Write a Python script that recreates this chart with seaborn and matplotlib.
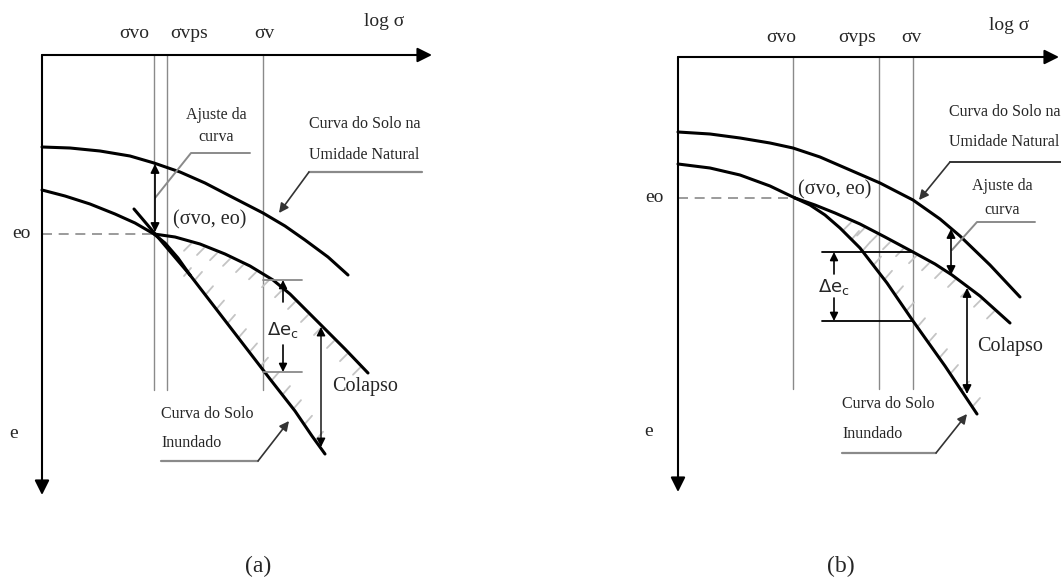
import numpy as np
import seaborn as sns
import matplotlib.pyplot as plt

# Schematic, in image pixels (x to the right, y down)

# --- panel (a) ---
a_natural_x = [42, 70, 100, 130, 154, 180, 205, 230, 263, 285, 305, 328, 348]
a_natural_y = [147, 148, 151, 156, 163, 172, 183, 196, 213, 226, 240, 257, 275]
a_lower_x = [42, 65, 90, 115, 135, 154, 165, 178, 190]
a_lower_y = [190, 196, 204, 214, 223, 234, 243, 258, 275]
a_tangent_x = [134, 190]
a_tangent_y = [209, 275]
a_steep_x = [190, 210, 230, 250, 270, 295, 312, 325]
a_steep_y = [275, 301, 327, 353, 379, 411, 436, 454]
a_middle_x = [154, 175, 200, 225, 250, 273, 290, 305, 321, 345, 368]
a_middle_y = [234, 237, 244, 254, 266, 280, 294, 309, 325, 349, 373]
a_stress_x = [154, 167, 263]
a_stress_labels = ["σvo", "σvps", "σv"]
a_e0 = 234

# --- panel (b) ---
b_natural_x = [678, 710, 740, 770, 793, 820, 850, 880, 913, 940, 960, 990, 1020]
b_natural_y = [132, 134, 138, 143, 148, 157, 170, 183, 200, 219, 236, 265, 297]
b_lower_x = [678, 710, 740, 770, 795]
b_lower_y = [164, 168, 175, 186, 198]
b_middle_x = [795, 815, 835, 860, 885, 913, 935, 952, 980, 1010]
b_middle_y = [198, 205, 213, 224, 237, 252, 264, 275, 296, 323]
b_steep_x = [795, 810, 825, 840, 860, 887, 913, 945, 977]
b_steep_y = [198, 205, 215, 228, 248, 283, 321, 366, 414]
b_stress_x = [793, 879, 913]
b_stress_labels = ["σvo", "σvps", "σv"]
b_e0 = 198

sns.set_style("white")
plt.rcParams['font.family'] = ['Liberation Serif', 'DejaVu Serif']
plt.rcParams['mathtext.fontset'] = 'dejavusans'

fig = plt.figure(figsize=(10.61, 5.83), dpi=100)
ax = fig.add_axes([0, 0, 1, 1])
ax.set_xlim(0, 1061)
ax.set_ylim(583, 0)
ax.axis('off')

GREY = '#8a8a8a'
HATCH = '#c4c4c4'
DELTA = r'$\Delta\mathrm{e}_\mathrm{c}$'


def curve(x, y, lw=2.2):
    sns.lineplot(x=x, y=y, sort=False, estimator=None, color='black', lw=lw, ax=ax)


def arrow(tail, tip, scale=13, lw=1.2, color='black', style='-|>'):
    ax.annotate('', xy=tip, xytext=tail,
                arrowprops=dict(arrowstyle=style, color=color, lw=lw,
                                mutation_scale=scale, shrinkA=0, shrinkB=0))


def hatch(x, y, x0, x1, side, step=13):
    xs = np.arange(x0, x1, step)
    ys = np.interp(xs, x, y)
    for hx, hy in zip(xs, ys):
        if side == 'below':
            ax.plot([hx - 8, hx - 1], [hy + 9, hy + 2], color=HATCH, lw=1.3)
        else:
            ax.plot([hx + 2, hx + 9], [hy + 1, hy - 7], color=HATCH, lw=1.3)


def panel(ox, oy, xend, yend, stress_x, vbottom, e0):
    # axes with arrows, stress lines and the dashed eo line
    arrow((ox, oy), (xend, oy), scale=22, lw=1.5)
    arrow((ox, oy), (ox, yend), scale=22, lw=1.5)
    for sx in stress_x:
        ax.plot([sx, sx], [oy, vbottom], color=GREY, lw=1.0)
    ax.plot([ox, stress_x[0]], [e0, e0], color=GREY, lw=1.2, dashes=(6, 4))


# ----- panel (a)
panel(42, 55, 432, 495, a_stress_x, 390, a_e0)
for sx, lab, dx in zip(a_stress_x, a_stress_labels, [-20, 22, 1]):
    ax.text(sx + dx, 34, lab, fontsize=14, ha='center', va='center')
ax.text(384, 22, "log σ", fontsize=14, ha='center', va='center')
ax.text(21, a_e0, "eo", fontsize=14, ha='center', va='center')
ax.text(14, 433, "e", fontsize=14, ha='center', va='center')

hatch(a_middle_x, a_middle_y, 192, 362, 'below')
hatch(a_steep_x, a_steep_y, 182, 322, 'right', step=11)

curve(a_natural_x, a_natural_y)
curve(a_lower_x, a_lower_y)
curve(a_tangent_x, a_tangent_y)
curve(a_steep_x, a_steep_y)
curve(a_middle_x, a_middle_y)

# ajuste da curva
ax.annotate('', xy=(155, 232), xytext=(155, 164),
            arrowprops=dict(arrowstyle='<|-|>', color='black', lw=1.2,
                            mutation_scale=13, shrinkA=0, shrinkB=0))
ax.plot([155, 191, 250], [198, 153, 153], color=GREY, lw=1.4)
ax.text(216, 115, "Ajuste da", fontsize=11.5, ha='center', va='center')
ax.text(216, 137, "curva", fontsize=11.5, ha='center', va='center')

# natural curve label
ax.plot([309, 422], [172, 172], color=GREY, lw=1.6)
arrow((309, 172), (279, 213), scale=14, lw=1.2, color='#333333')
ax.text(309, 124, "Curva do Solo na", fontsize=11.5, ha='left', va='center')
ax.text(309, 155, "Umidade Natural", fontsize=11.5, ha='left', va='center')

ax.text(210, 220, "(σvo, eo)", fontsize=14.5, ha='center', va='center')

# delta ec
ax.plot([263, 302], [280, 280], color=GREY, lw=1.3)
ax.plot([263, 302], [372, 372], color=GREY, lw=1.3)
arrow((283, 302), (283, 280), scale=12)
arrow((283, 345), (283, 372), scale=12)
ax.text(283, 330, DELTA, fontsize=13, ha='center', va='center')

# colapso
ax.annotate('', xy=(321, 447), xytext=(321, 327),
            arrowprops=dict(arrowstyle='<|-|>', color='black', lw=1.0,
                            mutation_scale=13, shrinkA=0, shrinkB=0))
ax.text(332, 387, "Colapso", fontsize=14.5, ha='left', va='center')

# inundado
ax.plot([161, 258], [461, 461], color=GREY, lw=1.6)
arrow((258, 461), (289, 421), scale=14, lw=1.2, color='#333333')
ax.text(161, 414, "Curva do Solo", fontsize=11.5, ha='left', va='center')
ax.text(161, 443, "Inundado", fontsize=11.5, ha='left', va='center')

ax.text(258, 566, "(a)", fontsize=17, ha='center', va='center')

# ----- panel (b)
panel(678, 57, 1059, 492, b_stress_x, 389, b_e0)
for sx, lab, dx in zip(b_stress_x, b_stress_labels, [-12, -22, -2]):
    ax.text(sx + dx, 37, lab, fontsize=14, ha='center', va='center')
ax.text(1009, 25, "log σ", fontsize=14, ha='center', va='center')
ax.text(654, b_e0, "eo", fontsize=14, ha='center', va='center')
ax.text(649, 431, "e", fontsize=14, ha='center', va='center')

hatch(b_middle_x, b_middle_y, 852, 1004, 'below')
hatch(b_steep_x, b_steep_y, 850, 972, 'right', step=11)

curve(b_natural_x, b_natural_y)
curve(b_lower_x, b_lower_y)
curve(b_middle_x, b_middle_y)
curve(b_steep_x, b_steep_y)

# delta ec
ax.plot([822, 913], [252, 252], color='black', lw=1.3)
ax.plot([822, 913], [321, 321], color='black', lw=1.3)
arrow((834, 274), (834, 252), scale=12)
arrow((834, 298), (834, 321), scale=12)
ax.text(834, 287, DELTA, fontsize=13, ha='center', va='center')

# ajuste da curva
ax.annotate('', xy=(951, 275), xytext=(951, 229),
            arrowprops=dict(arrowstyle='<|-|>', color='black', lw=1.2,
                            mutation_scale=13, shrinkA=0, shrinkB=0))
ax.plot([952, 977, 1035], [250, 222, 222], color=GREY, lw=1.4)
ax.text(1002, 186, "Ajuste da", fontsize=11.5, ha='center', va='center')
ax.text(1002, 210, "curva", fontsize=11.5, ha='center', va='center')

# natural label
ax.plot([950, 1061], [162, 162], color='#333333', lw=1.4)
arrow((950, 162), (919, 200), scale=14, lw=1.2, color='#333333')
ax.text(949, 112, "Curva do Solo na", fontsize=11.5, ha='left', va='center')
ax.text(949, 142, "Umidade Natural", fontsize=11.5, ha='left', va='center')

ax.text(835, 190, "(σvo, eo)", fontsize=14.5, ha='center', va='center')

# colapso
ax.annotate('', xy=(967, 394), xytext=(967, 288),
            arrowprops=dict(arrowstyle='<|-|>', color='black', lw=1.2,
                            mutation_scale=13, shrinkA=0, shrinkB=0))
ax.text(977, 347, "Colapso", fontsize=14.5, ha='left', va='center')

# inundado
ax.plot([842, 936], [453, 453], color=GREY, lw=1.6)
arrow((936, 453), (967, 414), scale=14, lw=1.2, color='#333333')
ax.text(842, 404, "Curva do Solo", fontsize=11.5, ha='left', va='center')
ax.text(842, 434, "Inundado", fontsize=11.5, ha='left', va='center')

ax.text(841, 566, "(b)", fontsize=17, ha='center', va='center')

fig.savefig("out.png", dpi=100)
